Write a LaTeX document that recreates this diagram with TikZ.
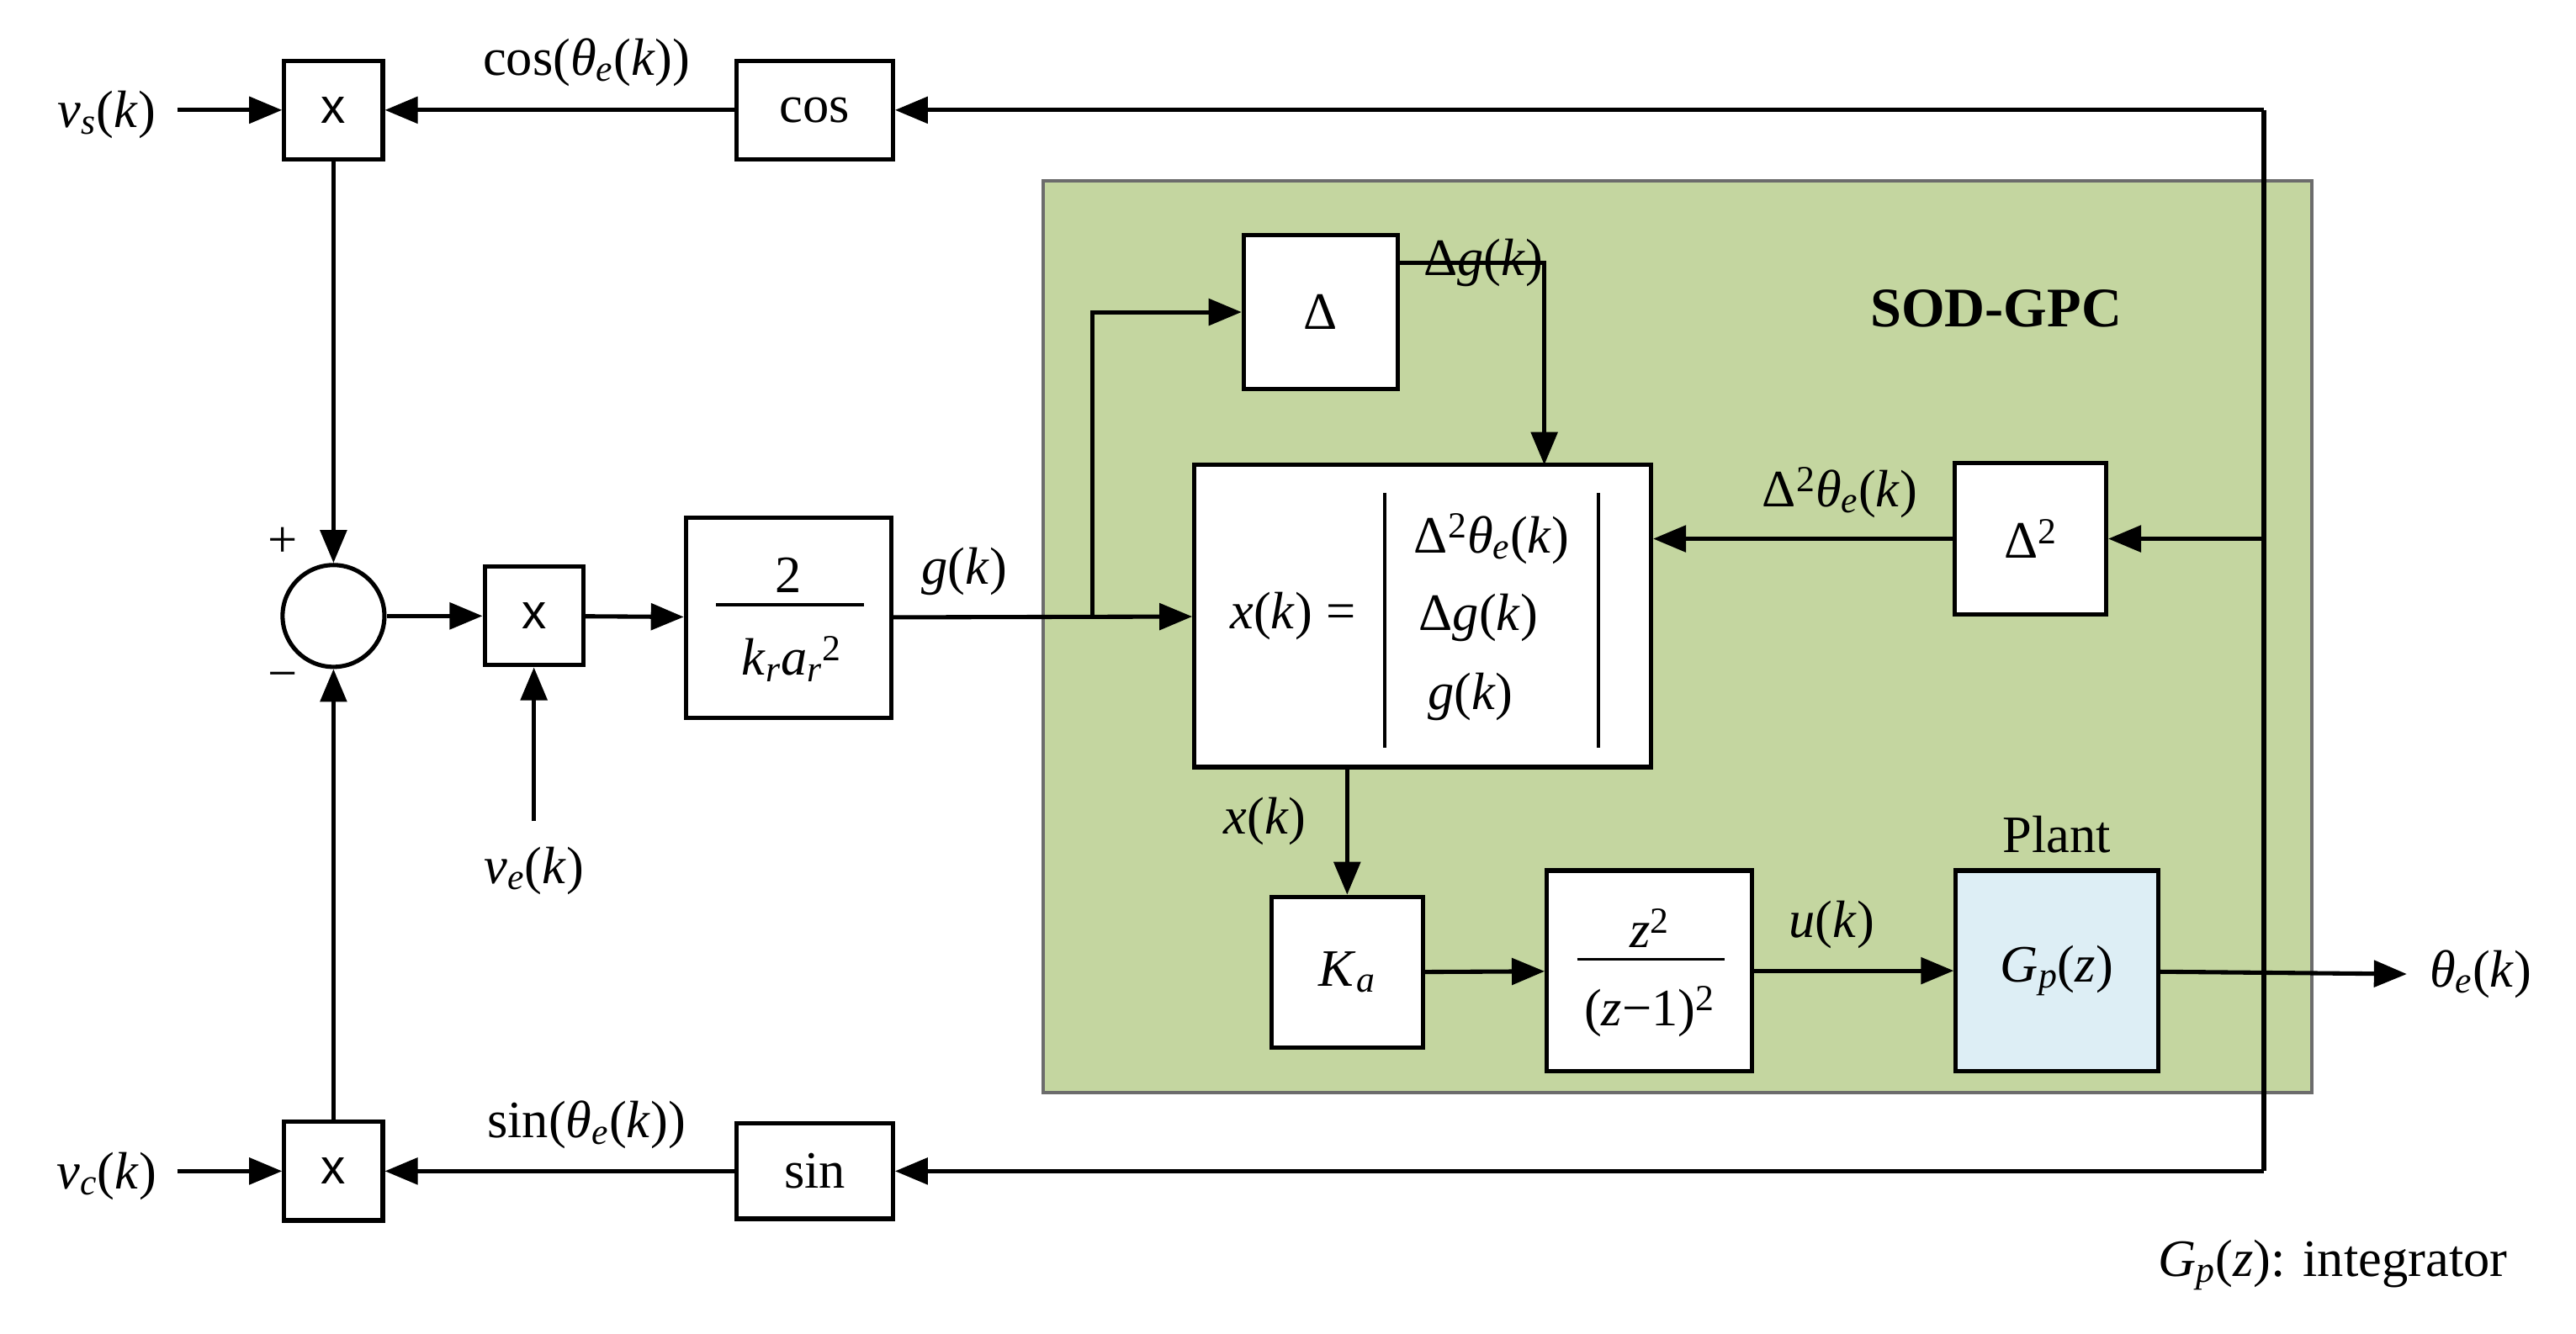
\documentclass[tikz,border=0pt]{standalone}
\usepackage{fontspec}
\setmainfont{Liberation Serif}
\newfontfamily\sansf{Liberation Sans}
\usetikzlibrary{arrows.meta}
\newcommand\Iv[1]{\textit{#1}}
\newcommand\Sb[1]{\textsubscript{\textit{#1}}}
\newcommand\Sp[1]{\textsuperscript{#1}}
\definecolor{sodgreen}{RGB}{196,214,160}
\definecolor{plantblue}{RGB}{221,238,245}
\begin{document}
\begin{tikzpicture}[x=1pt,y=-1pt,
  every node/.style={font=\fontsize{32}{36}\selectfont, inner sep=0pt},
  blk/.style={draw, line width=2.6pt, fill=white, minimum width=#1, minimum height=#1},
  mul/.style={blk=60pt, font=\sansf\fontsize{30}{34}\selectfont},
  wire/.style={line width=2.6pt},
  arr/.style={wire, -{Triangle[length=20pt,width=16pt]}}]
\useasboundingbox (0,0) rectangle (1568,812);
\fill[white] (0,0) rectangle (1568,812);
% green region
\draw[fill=sodgreen, draw=gray!85!black, line width=2pt] (635,110) rectangle (1407,665);
\node[font=\bfseries\fontsize{34}{38}\selectfont] (title) at (1215,188) {SOD-GPC};
% blocks
\node[mul] (m1) at (203,67) {x};
\node[mul] (m2) at (325,375) {x};
\node[mul] (m3) at (203,713) {x};
\node[blk=60pt, minimum width=95pt] (cos) at (496,67) {cos};
\node[blk=58pt, minimum width=95pt] (sin) at (496,713) {sin};
\node[draw, circle, line width=2.6pt, fill=white, minimum size=62pt] (sum) at (203,375) {};
\node[blk=122pt, minimum width=125pt] (gain) at (480,376) {};
\node (gn) at (480,350) {2};
\draw[line width=2pt] (436,368) -- (526,368);
\node (gd) at (482,401) {\Iv{k}\Sb{r}\Iv{a}\Sb{r}\Sp{2}};
\node[blk=94pt] (d1) at (804,190) {Δ};
\node[blk=184pt, minimum width=278pt] (xb) at (866,375) {};
\node (xeq) at (787,375) {\Iv{x}(\Iv{k}) =};
\draw[line width=2pt] (843,300) -- (843,455) (973,300) -- (973,455);
\node (r1) at (908,328) {Δ\Sp{2}\Iv{θ}\Sb{e}(\Iv{k})};
\node (r2) at (900,376) {Δ\Iv{g}(\Iv{k})};
\node (r3) at (895,424) {\Iv{g}(\Iv{k})};
\node[blk=92pt] (d2) at (1236,328) {Δ\Sp{2}};
\node[blk=92pt] (ka) at (820,592) {\Iv{K}\Sb{a}};
\node[blk=122pt, minimum width=125pt] (zf) at (1004,591) {};
\node (zn) at (1004,565) {\Iv{z}\Sp{2}};
\draw[line width=2pt] (960,584) -- (1050,584);
\node (zd) at (1004,616) {(\Iv{z}−1)\Sp{2}};
\node[blk=122pt, minimum width=123pt, fill=plantblue] (gp) at (1252,591) {\Iv{G}\Sb{p}(\Iv{z})};
% labels
\node (vs) at (65,70) {\Iv{v}\Sb{s}(\Iv{k})};
\node (vc) at (65,716) {\Iv{v}\Sb{c}(\Iv{k})};
\node (ve) at (325,530) {\Iv{v}\Sb{e}(\Iv{k})};
\node (lcos) at (357,38) {cos(\Iv{θ}\Sb{e}(\Iv{k}))};
\node (lsin) at (357,685) {sin(\Iv{θ}\Sb{e}(\Iv{k}))};
\node (lg) at (587,348) {\Iv{g}(\Iv{k})};
\node (ldg) at (903,160) {Δ\Iv{g}(\Iv{k})};
\node (ld2) at (1120,300) {Δ\Sp{2}\Iv{θ}\Sb{e}(\Iv{k})};
\node (lx) at (770,500) {\Iv{x}(\Iv{k})};
\node (lu) at (1115,563) {\Iv{u}(\Iv{k})};
\node (lplant) at (1252,508) {Plant};
\node (out) at (1510,593) {\Iv{θ}\Sb{e}(\Iv{k})};
\node (plus) at (172,330) {+};
\node (minus) at (172,415) {−};
\node (note) at (1420,770) {\Iv{G}\Sb{p}(\Iv{z}): integrator};
% coordinates
\coordinate (fbT) at (1378,67);
\coordinate (fbB) at (1378,713);
\coordinate (fbD) at (1378,328);
\coordinate (vsE) at (108,67);
\coordinate (vcE) at (108,713);
\coordinate (veE) at (325,500);
\coordinate (br) at (665,375);
\coordinate (outE) at (1465,593);
% wires
\draw[arr] (vsE) -- (m1);
\draw[arr] (vcE) -- (m3);
\draw[arr] (cos) -- (m1);
\draw[arr] (sin) -- (m3);
\draw[arr] (fbT) -- (cos);
\draw[arr] (fbB) -- (sin);
\draw[wire] (fbT) -- (fbB);
\draw[arr] (fbD) -- (d2);
\draw[arr] (m1) -- (sum);
\draw[arr] (m3) -- (sum);
\draw[arr] (sum) -- (m2);
\draw[arr] (veE) -- (m2);
\draw[arr] (m2) -- (gain);
\draw[arr] (gain) -- (xb);
\draw[arr] (br) |- (d1);
\draw[arr] (d1.east |- 0,160) -| (940,283);
\draw[arr] (d2) -- (xb.east |- d2);
\draw[arr] (820,467) -- (ka);
\draw[arr] (ka) -- (zf);
\draw[arr] (zf) -- (gp);
\draw[arr] (gp) -- (outE);
\end{tikzpicture}
\end{document}
